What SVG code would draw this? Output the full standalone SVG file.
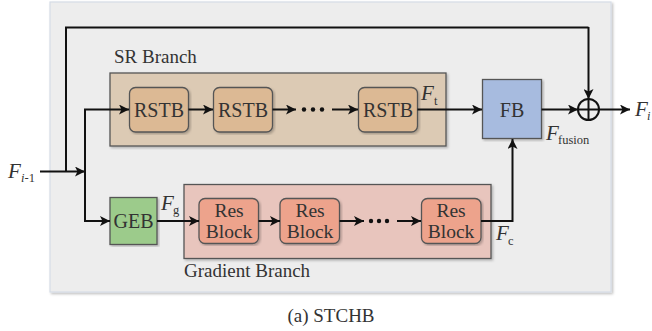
<svg xmlns="http://www.w3.org/2000/svg" width="652" height="331" viewBox="0 0 652 331" font-family="'Liberation Serif', 'DejaVu Serif', serif">
<defs>
<marker id="ah" viewBox="0 0 10 10" refX="10" refY="5" markerWidth="10" markerHeight="10" markerUnits="userSpaceOnUse" orient="auto">
<path d="M0,0 L10,5 L0,10 L2.5,5 z" fill="#111"/>
</marker>
<filter id="sh" x="-5%" y="-5%" width="110%" height="110%">
<feDropShadow dx="1.5" dy="1.5" stdDeviation="1.2" flood-color="#000" flood-opacity="0.25"/>
</filter>
</defs>
<style>
text{font-family:'Liberation Serif','DejaVu Serif',serif;fill:#333}
.lbl{font-size:20px}
.rb{font-size:19.5px}
.br{font-size:19px}
.it{font-style:italic;font-size:21px}
.sub{font-size:12.5px}
.blk{stroke:#555;stroke-width:1.3}
.ln{fill:none;stroke:#111;stroke-width:2}
.arr{fill:none;stroke:#111;stroke-width:2;marker-end:url(#ah)}
</style>
<rect x="0" y="0" width="652" height="331" fill="#fff"/>
<g id="outer">
<rect x="50" y="2" width="561" height="290" fill="#ededed" stroke="#d6dde6" stroke-width="1.2" filter="url(#sh)"/>
</g>
<g id="sr-branch">
<rect x="110" y="73" width="336" height="73" fill="#dccab4" class="blk" filter="url(#sh)"/>
<text x="114" y="63" class="br">SR Branch</text>
</g>
<g id="gradient-branch">
<rect x="184" y="184.5" width="307" height="74" fill="#e8c5bd" class="blk" filter="url(#sh)"/>
<text x="184" y="277" class="br">Gradient Branch</text>
</g>
<g id="rstb1">
<rect x="129.5" y="87.5" width="59" height="44.5" rx="6" fill="#dcb994" class="blk" filter="url(#sh)"/>
<text x="159" y="116.5" class="lbl" text-anchor="middle">RSTB</text>
</g>
<g id="rstb2">
<rect x="213.5" y="87.5" width="59" height="44.5" rx="6" fill="#dcb994" class="blk" filter="url(#sh)"/>
<text x="243" y="116.5" class="lbl" text-anchor="middle">RSTB</text>
</g>
<g id="rstb3">
<rect x="358.5" y="87.5" width="59" height="44.5" rx="6" fill="#dcb994" class="blk" filter="url(#sh)"/>
<text x="388" y="116.5" class="lbl" text-anchor="middle">RSTB</text>
</g>
<g id="fb">
<rect x="482.5" y="79.5" width="59" height="59" fill="#a7bbdf" class="blk" filter="url(#sh)"/>
<text x="512" y="116.5" class="lbl" text-anchor="middle">FB</text>
</g>
<g id="geb">
<rect x="110" y="197.5" width="47" height="47" fill="#9ccb8b" class="blk" filter="url(#sh)"/>
<text x="133.5" y="228" class="lbl" text-anchor="middle">GEB</text>
</g>
<g id="res1">
<rect x="199" y="198.5" width="59.5" height="45" rx="6" fill="#eda38c" class="blk" filter="url(#sh)"/>
<text x="229" y="217" class="rb" text-anchor="middle">Res</text>
<text x="229" y="238" class="rb" text-anchor="middle">Block</text>
</g>
<g id="res2">
<rect x="280" y="198.5" width="59.5" height="45" rx="6" fill="#eda38c" class="blk" filter="url(#sh)"/>
<text x="310" y="217" class="rb" text-anchor="middle">Res</text>
<text x="310" y="238" class="rb" text-anchor="middle">Block</text>
</g>
<g id="res3">
<rect x="421.5" y="198.5" width="59.5" height="45" rx="6" fill="#eda38c" class="blk" filter="url(#sh)"/>
<text x="451" y="217" class="rb" text-anchor="middle">Res</text>
<text x="451" y="238" class="rb" text-anchor="middle">Block</text>
</g>
<g id="sum">
<circle cx="588.5" cy="109.5" r="10.5" fill="none" stroke="#111" stroke-width="2"/>
<line x1="578" y1="109.5" x2="599" y2="109.5" stroke="#111" stroke-width="2"/>
<line x1="588.5" y1="99" x2="588.5" y2="120" stroke="#111" stroke-width="2"/>
</g>
<g id="connectors">
<polyline class="ln" points="66,171.5 66,27.5 588.5,27.5"/>
<line class="arr" x1="588.5" y1="27" x2="588.5" y2="99"/>
<line class="arr" x1="40" y1="171.5" x2="85" y2="171.5"/>
<polyline class="arr" points="85,221 85,109.5 129,109.5"/>
<polyline class="arr" points="85,220 85,221 110,221"/>
<line class="arr" x1="188.5" y1="109.5" x2="213" y2="109.5"/>
<line class="arr" x1="272.5" y1="109.5" x2="296" y2="109.5"/>
<line class="arr" x1="332" y1="109.5" x2="358" y2="109.5"/>
<line class="arr" x1="417.5" y1="109.5" x2="482" y2="109.5"/>
<line class="arr" x1="541.5" y1="109.5" x2="578" y2="109.5"/>
<line class="arr" x1="599" y1="109.5" x2="630" y2="109.5"/>
<line class="arr" x1="157" y1="221" x2="199" y2="221"/>
<line class="arr" x1="258.5" y1="221" x2="280" y2="221"/>
<line class="arr" x1="339.5" y1="221" x2="364" y2="221"/>
<line class="arr" x1="397" y1="221" x2="421" y2="221"/>
<polyline class="arr" points="481,221 512.5,221 512.5,139"/>
<g fill="#111">
<circle cx="304" cy="109.5" r="2.2"/><circle cx="313" cy="109.5" r="2.2"/><circle cx="322" cy="109.5" r="2.2"/>
<circle cx="371" cy="221" r="2.2"/><circle cx="379" cy="221" r="2.2"/><circle cx="387" cy="221" r="2.2"/>
</g>
</g>
<g id="labels">
<text x="8" y="178" class="it">F</text><text x="21" y="182" class="sub"><tspan font-style="italic">i</tspan>-1</text>
<text x="421" y="100" class="it">F</text><text x="434" y="105" class="sub">t</text>
<text x="635" y="116" class="it">F</text><text x="647" y="120" class="sub" font-style="italic">i</text>
<text x="546" y="140" class="it">F</text><text x="558" y="144" class="sub">fusion</text>
<text x="161" y="210" class="it">F</text><text x="173" y="214" class="sub">g</text>
<text x="496" y="240" class="it">F</text><text x="508" y="245" class="sub">c</text>
<text x="331" y="322" class="br" text-anchor="middle">(a) STCHB</text>
</g>
</svg>
